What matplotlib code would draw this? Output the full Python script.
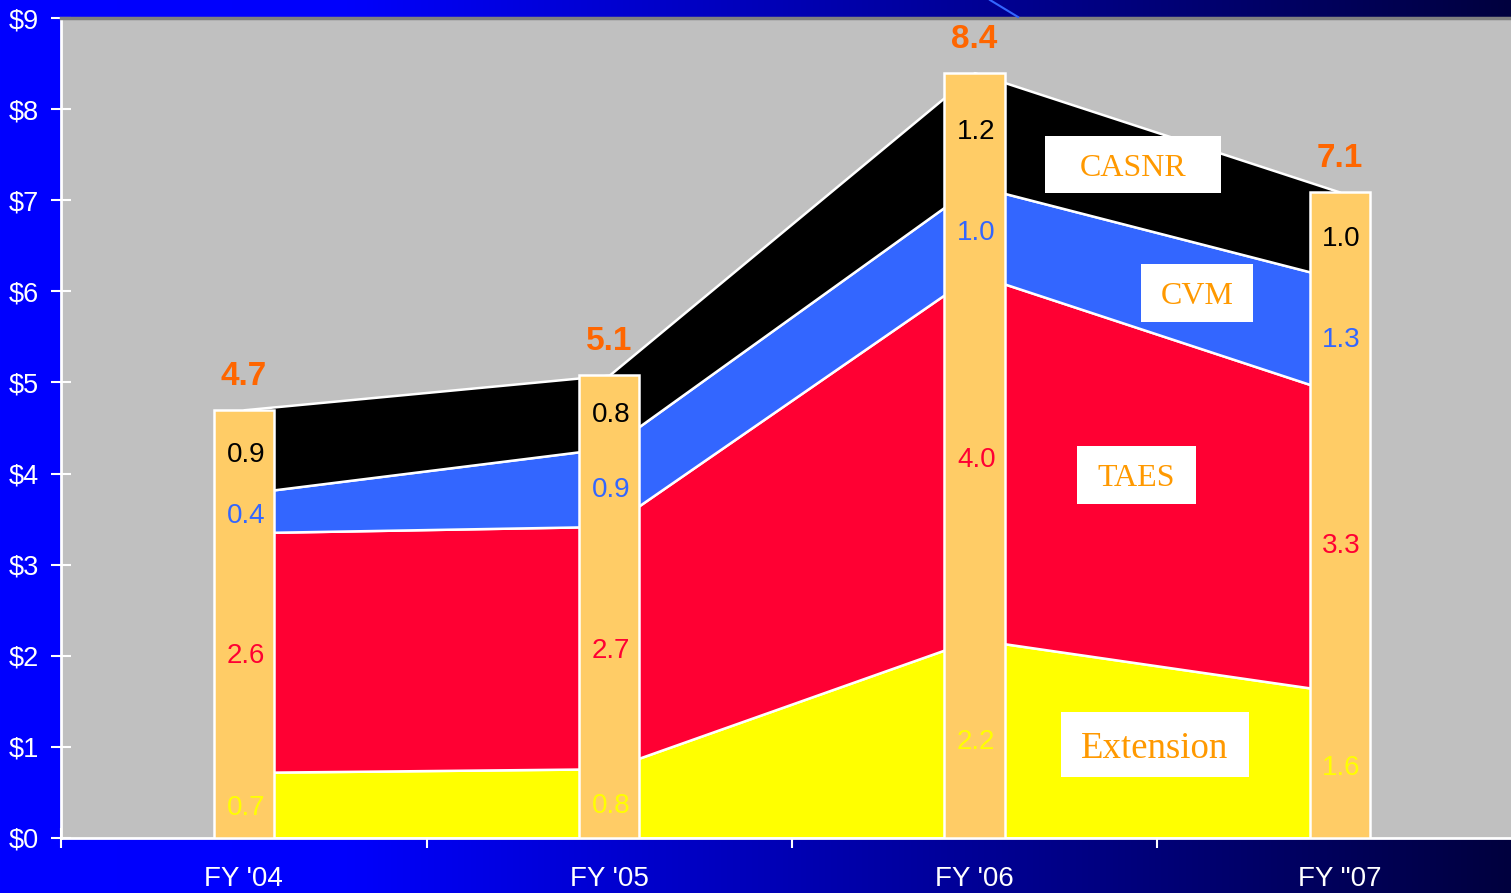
import matplotlib
matplotlib.use('Agg')
import matplotlib.pyplot as plt
import numpy as np
from matplotlib.patches import Rectangle
from matplotlib.lines import Line2D

plt.rcParams['font.family'] = ['Liberation Sans', 'DejaVu Sans']

# ---- data ----
years = ["FY '04", "FY '05", "FY '06", 'FY "07']
extension = [0.72, 0.76, 2.18, 1.60]
taes = [2.63, 2.66, 4.01, 3.27]
cvm = [0.43, 0.86, 0.97, 1.26]
casnr = [0.92, 0.80, 1.24, 0.96]
series_names = ['Extension', 'TAES', 'CVM', 'CASNR']
y_ticks = [0, 1, 2, 3, 4, 5, 6, 7, 8, 9]
y_tick_labels = ['$' + str(v) for v in y_ticks]

area_colors = ['#FFFF00', '#FF0033', '#3366FF', '#000000']
label_colors = ['#FFFF00', '#FF0033', '#3366FF', '#000000']

W, H = 1511, 893
fig = plt.figure(figsize=(W / 100, H / 100), dpi=100)

# background gradient
bg = fig.add_axes([0, 0, 1, 1], zorder=-10)
bg.axis('off')
xs = np.linspace(0, 1, 600)
b = np.interp(xs, [0, 0.23, 1.0], [255, 252, 62]) / 255.0
grad = np.zeros((1, len(xs), 3))
grad[0, :, 2] = b
bg.imshow(grad, aspect='auto', extent=[0, 1, 0, 1])
bg.set_xlim(0, 1)
bg.set_ylim(0, 1)

ax = fig.add_axes([61.3 / W, 55 / H, (W - 61.3) / W, 820 / H])
ax.set_facecolor('#C0C0C0')

x = np.arange(len(years))
series = [extension, taes, cvm, casnr]
ax.stackplot(x, *series, colors=area_colors, edgecolor='white', linewidth=1.8, zorder=2)

totals = np.sum(np.array(series), axis=0)
ax.bar(x, totals, width=0.165, color='#FFCC66', edgecolor='white', linewidth=1.8, zorder=3)

# segment labels
bottom = np.zeros(len(years))
for vals, col in zip(series, label_colors):
    vals = np.array(vals)
    for xi, (bt, v) in enumerate(zip(bottom, vals)):
        ax.text(xi + 0.005, bt + v / 2, f'{v:.1f}', ha='center', va='center_baseline',
                color=col, fontsize=20, zorder=5)
    bottom = bottom + vals

# total labels
for xi, t in enumerate(totals):
    ax.annotate(f'{t:.1f}', (xi, t), xytext=(0, 18), textcoords='offset points',
                ha='center', va='baseline', fontsize=24, fontweight='bold',
                color='#FF6600', zorder=6, annotation_clip=False)

# series name boxes
boxes = {
    'CASNR': (2.193, 7.079, 0.482, 0.626, 23),
    'CVM': (2.456, 5.663, 0.306, 0.637, 23),
    'TAES': (2.281, 3.666, 0.325, 0.636, 23),
    'Extension': (2.236, 0.670, 0.517, 0.713, 26.5),
}
for name in series_names:
    bx, by, bw, bh, fs = boxes[name]
    ax.add_patch(Rectangle((bx, by), bw, bh, facecolor='white', edgecolor='none', zorder=7))
    ax.text(bx + bw / 2, by + bh / 2, name, ha='center', va='center_baseline',
            fontsize=fs, color='#FF9900', family='Liberation Serif', zorder=8)

ax.set_xlim(-0.5, 3.469)
ax.set_ylim(0, 9)

ax.set_yticks(y_ticks)
ax.set_yticklabels(y_tick_labels)
ax.tick_params(axis='y', direction='inout', length=13.7, width=1.5, colors='white',
               labelsize=19.5, pad=9)

ax.set_xticks([-0.5, 0.5, 1.5, 2.5])
ax.set_xticklabels([])
ax.set_xticks(x, minor=True)
ax.set_xticklabels(years, minor=True)
ax.tick_params(axis='x', which='major', direction='inout', length=13.7, width=1.5,
               colors='white', labelbottom=False)
ax.tick_params(axis='x', which='minor', length=0, colors='white', labelsize=20, pad=20.5)

ax.spines['left'].set_color('white')
ax.spines['left'].set_linewidth(2)
ax.spines['bottom'].set_color('white')
ax.spines['bottom'].set_linewidth(2)
ax.spines['top'].set_color('#808080')
ax.spines['top'].set_linewidth(2.5)
ax.spines['right'].set_visible(False)

# decorative slide line at top
fig.add_artist(Line2D([990 / W, 1018 / W], [1, 1 - 17 / H], color='#3366FF',
                      linewidth=1.5, transform=fig.transFigure))

fig.savefig('out.png', dpi=100)
